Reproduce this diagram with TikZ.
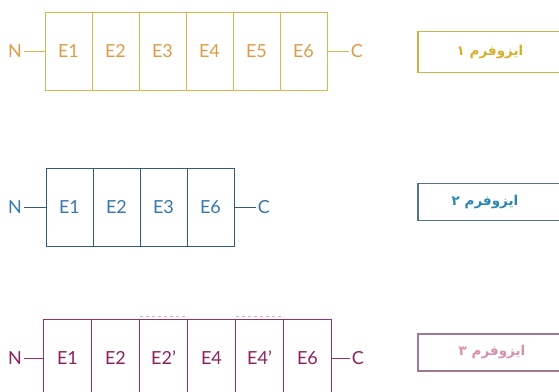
\documentclass[tikz,border=0pt]{standalone}
\usepackage{fontspec}
\usepackage{xcolor}
\usetikzlibrary{positioning}
\setmainfont{Lato}
\TeXXeTstate=1
\newfontfamily\arabicfont[Script=Arabic]{DejaVu Sans}
\definecolor{IsoGoldLine}{HTML}{DDB54E}
\definecolor{IsoGoldText}{HTML}{E09A45}
\definecolor{IsoGoldTag}{HTML}{CDB24A}
\definecolor{IsoGoldTagText}{HTML}{D9AE2A}
\definecolor{IsoBlueLine}{HTML}{2F5C7C}
\definecolor{IsoBlueText}{HTML}{3577B0}
\definecolor{IsoBlueTag}{HTML}{557585}
\definecolor{IsoBlueTagText}{HTML}{2A86B5}
\definecolor{IsoPinkLine}{HTML}{9E2E6C}
\definecolor{IsoPinkText}{HTML}{8E1F5C}
\definecolor{IsoPinkTag}{HTML}{A27892}
\definecolor{IsoPinkTagText}{HTML}{D890AC}

\begin{document}
\begin{tikzpicture}[x=1pt,y=-1pt,
  exon/.style={draw,line width=1pt,minimum height=78pt,outer sep=0pt,
    inner sep=0pt,font=\fontsize{18}{20}\selectfont},
  term/.style={inner sep=2pt,font=\fontsize{18}{20}\selectfont},
  link/.style={line width=1pt},
  tagbox/.style={draw,line width=1.1pt,minimum width=170pt,anchor=west,
    outer sep=0pt},
  tagtext/.style={font=\fontsize{13.5}{15}\selectfont\arabicfont\bfseries}]
  \clip (0,0) rectangle (559,391);
  % ایزوفرم ۱
  \begin{scope}[every node/.append style={draw=IsoGoldLine,text=IsoGoldText}]
    \node[exon,minimum width=47pt,anchor=west] (a1) at (45,51) {E1};
    \node[exon,minimum width=47pt,right=0pt of a1] (a2) {E2};
    \node[exon,minimum width=47pt,right=0pt of a2] (a3) {E3};
    \node[exon,minimum width=47pt,right=0pt of a3] (a4) {E4};
    \node[exon,minimum width=47pt,right=0pt of a4] (a5) {E5};
    \node[exon,minimum width=47pt,right=0pt of a5] (a6) {E6};
  \end{scope}
  \node[term,text=IsoGoldText] (aN) at (15,51) {N};
  \node[term,text=IsoGoldText] (aC) at (357,51) {C};
  \draw[link,IsoGoldLine] (aN) -- (a1);
  \draw[link,IsoGoldLine] (a6) -- (aC);
  % ایزوفرم ۲
  \begin{scope}[every node/.append style={draw=IsoBlueLine,text=IsoBlueText}]
    \node[exon,minimum width=47pt,anchor=west] (b1) at (46,207) {E1};
    \node[exon,minimum width=47pt,right=0pt of b1] (b2) {E2};
    \node[exon,minimum width=47pt,right=0pt of b2] (b3) {E3};
    \node[exon,minimum width=47pt,right=0pt of b3] (b4) {E6};
  \end{scope}
  \node[term,text=IsoBlueText] (bN) at (15,207) {N};
  \node[term,text=IsoBlueText] (bC) at (264,207) {C};
  \draw[link,IsoBlueLine] (bN) -- (b1);
  \draw[link,IsoBlueLine] (b4) -- (bC);
  % ایزوفرم ۳
  \begin{scope}[every node/.append style={draw=IsoPinkLine,text=IsoPinkText}]
    \node[exon,minimum width=48pt,anchor=west] (c1) at (43.5,358) {E1};
    \node[exon,minimum width=48pt,right=0pt of c1] (c2) {E2};
    \node[exon,minimum width=48pt,right=0pt of c2] (c3) {E2’};
    \node[exon,minimum width=48pt,right=0pt of c3] (c4) {E4};
    \node[exon,minimum width=48pt,right=0pt of c4] (c5) {E4’};
    \node[exon,minimum width=48pt,right=0pt of c5] (c6) {E6};
  \end{scope}
  \node[term,text=IsoPinkText] (cN) at (15,358) {N};
  \node[term,text=IsoPinkText] (cC) at (358,358) {C};
  \draw[link,IsoPinkLine] (cN) -- (c1);
  \draw[link,IsoPinkLine] (c6) -- (cC);
  \draw[IsoPinkLine!40,line width=0.8pt,dashed]
    ([yshift=3pt]c3.north west) -- ([yshift=3pt]c3.north east);
  \draw[IsoPinkLine!40,line width=0.8pt,dashed]
    ([yshift=3pt]c5.north west) -- ([yshift=3pt]c5.north east);
  % برچسب‌ها
  \node[tagbox,draw=IsoGoldTag,minimum height=41pt] (t1) at (418,52.2) {};
  \node[tagtext,text=IsoGoldTagText] (l1) at (490,52.2) {\beginR ایزوفرم ۱\endR};
  \node[tagbox,draw=IsoBlueTag,minimum height=37.4pt] (t2) at (418,202) {};
  \node[tagtext,text=IsoBlueTagText] (l2) at (485,202) {\beginR ایزوفرم ۲\endR};
  \node[tagbox,draw=IsoPinkTag,minimum height=37pt] (t3) at (418,352.5) {};
  \node[tagtext,text=IsoPinkTagText] (l3) at (492,352.5) {\beginR ایزوفرم ۳\endR};
\end{tikzpicture}
\end{document}
